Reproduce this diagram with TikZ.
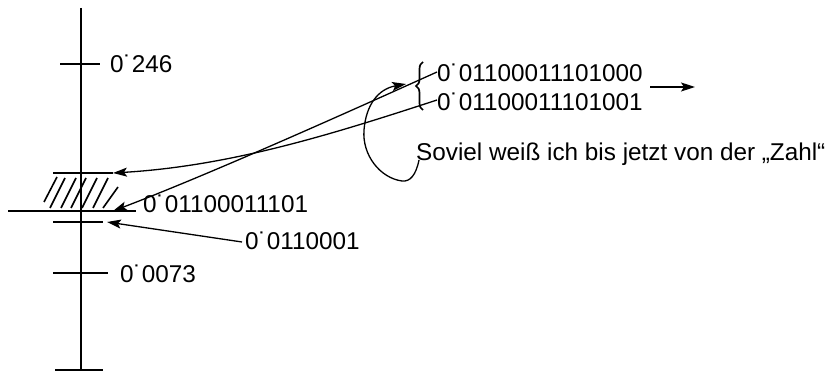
\documentclass[tikz,border=0pt]{standalone}
\usepackage{fontspec}
\setmainfont{Liberation Sans}
\usetikzlibrary{arrows.meta,decorations.pathreplacing}
\begin{document}
\begin{tikzpicture}[x=1pt,y=-1pt,
  lbl/.style={anchor=base west,inner sep=0pt,font=\fontsize{24.3}{28}\selectfont},
  axisline/.style={line width=2pt},
  conn/.style={line width=1.3pt,-{Stealth[length=14pt,width=9pt,inset=3pt]}},
  hatchline/.style={line width=1.6pt}]
\useasboundingbox (0,0) rectangle (834,371);
% axis and ticks
\draw[axisline] (81,8) -- (81,371);
\draw[axisline] (60,64) -- (100,64);
\draw[axisline] (53,173) -- (113,173);
\draw[axisline] (8,211) -- (136,211);
\draw[axisline] (53,222) -- (103,222);
\draw[axisline] (53,273) -- (108,273);
\draw[axisline] (55,370) -- (103,370);
% hatching
\draw[hatchline] (44,202) -- (57,177);
\draw[hatchline] (50,208) -- (65,178);
\draw[hatchline] (61,208) -- (76,178);
\draw[hatchline] (71,208) -- (86,178);
\draw[hatchline] (82,208) -- (97,178);
\draw[hatchline] (93,208) -- (108,178);
\draw[hatchline] (103,208) -- (118,187);
% labels
\node[lbl] (l246) at (110,73) {0˙246};
\node[lbl] (l11101) at (143,213) {0˙01100011101};
\node[lbl] (l0110001) at (245,249) {0˙0110001};
\node[lbl] (l0073) at (120,282) {0˙0073};
\node[lbl] (lhi) at (437,82) {0˙01100011101000};
\node[lbl] (llo) at (437,111) {0˙01100011101001};
\node[lbl] (soviel) at (416,161) {Soviel weiß ich bis jetzt von der „Zahl“};
% coordinates
\coordinate (hatchTop) at (113,173);
\coordinate (hatchBot) at (113,211);
\coordinate (tickMid) at (107,222);
\coordinate (fromLow) at (242,242);
\coordinate (hiStart) at (437,72);
\coordinate (loStart) at (437,100);
\coordinate (rarrS) at (650,87);
\coordinate (rarrE) at (695,87);
\coordinate (curlS) at (419,160);
\coordinate (curlE) at (406,84);
% connectors
\draw[conn] (hiStart) .. controls (335,118) and (205,176) .. (hatchBot);
\draw[conn] (loStart) .. controls (330,135) and (230,166) .. (hatchTop);
\draw[conn] (fromLow) -- (tickMid);
\draw[conn] (rarrS) -- (rarrE);
\draw[conn] (curlS) .. controls (416,175) and (410,182) .. (402,181)
  .. controls (380,178) and (362,155) .. (364,130)
  .. controls (366,105) and (378,89) .. (curlE);
% brace
\draw[line width=1.7pt,decorate,decoration={brace,amplitude=7pt}] (423,110) -- (423,62);
\end{tikzpicture}
\end{document}
